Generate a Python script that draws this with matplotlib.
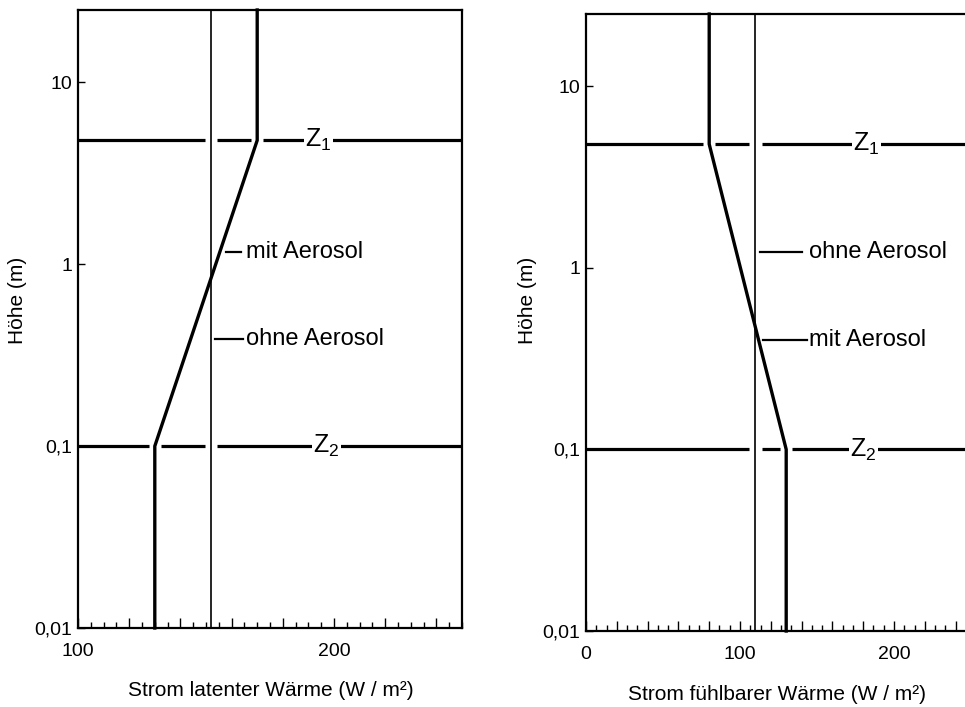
import matplotlib
matplotlib.use('Agg')
import matplotlib.pyplot as plt
from matplotlib.ticker import FixedLocator, MultipleLocator, FuncFormatter, NullLocator

plt.rcParams['font.family'] = ['Liberation Sans', 'DejaVu Sans']
plt.rcParams['mathtext.fontset'] = 'custom'
plt.rcParams['mathtext.rm'] = 'Liberation Sans'
plt.rcParams['mathtext.it'] = 'Liberation Sans'

# ---------------- data ----------------
z_min, z_max = 0.01, 25.0
z1 = 4.8          # upper reference height Z1 (m)
z2 = 0.1          # lower reference height Z2 (m)

# latent heat flux (W/m^2)
lat_mit_below = 130   # with aerosol, below Z2
lat_mit_above = 170   # with aerosol, above Z1
lat_ohne = 152        # without aerosol
lat_xlim = (100, 250)

# sensible heat flux (W/m^2)
sen_mit_below = 130
sen_mit_above = 80
sen_ohne = 110
sen_xlim = (0, 250)

y_ticks = [0.01, 0.1, 1, 10]
y_ticklabels = ['0,01', '0,1', '1', '10']

W, H = 965, 707
fig = plt.figure(figsize=(W / 100, H / 100), dpi=100)

def ax_rect(l, r, b, t):
    return [l / W, 1 - b / H, (r - l) / W, (b - t) / H]

ax1 = fig.add_axes(ax_rect(78, 462, 628, 10))
ax2 = fig.add_axes(ax_rect(586, 971, 631, 14))


def setup(ax, xlim, minor_step, xlabel, xl_coords, yl_coords):
    ax.set_yscale('log')
    ax.set_ylim(z_min, z_max)
    ax.set_xlim(*xlim)
    ax.yaxis.set_major_locator(FixedLocator(y_ticks))
    ax.yaxis.set_major_formatter(FuncFormatter(
        lambda v, p: y_ticklabels[y_ticks.index(min(y_ticks, key=lambda t: abs(t - v)))]))
    ax.yaxis.set_minor_locator(NullLocator())
    ax.xaxis.set_major_locator(MultipleLocator(20))
    ax.xaxis.set_minor_locator(MultipleLocator(minor_step))
    ax.xaxis.set_major_formatter(FuncFormatter(
        lambda v, p: '%d' % round(v) if abs(v / 100 - round(v / 100)) < 1e-6 else ''))
    ax.tick_params(axis='both', which='both', direction='in', top=False, right=False,
                   width=1.0, labelsize=14, colors='black')
    ax.tick_params(axis='x', which='major', length=7.5, pad=11)
    ax.tick_params(axis='x', which='minor', length=4)
    ax.tick_params(axis='y', which='major', length=5, pad=4)
    for s in ax.spines.values():
        s.set_linewidth(1.6)
    ax.set_xlabel(xlabel, fontsize=15)
    ax.set_ylabel('Höhe (m)', fontsize=15)
    ax.xaxis.set_label_coords(*xl_coords)
    ax.yaxis.set_label_coords(*yl_coords)


setup(ax1, lat_xlim, 5, 'Strom latenter Wärme (W / m²)', (0.503, -0.085), (-0.132, 0.53))
setup(ax2, sen_xlim, 20 / 3, 'Strom fühlbarer Wärme (W / m²)', (0.496, -0.088), (-0.127, 0.536))


def profile(ax, below, above, ohne):
    ax.plot([below, below, above, above], [z_min, z2, z1, z_max], color='black',
            lw=2.4, solid_joinstyle='miter', zorder=4, clip_on=False)
    ax.plot([ohne, ohne], [z_min, z_max], color='black', lw=1.2, zorder=4)


def zline(ax, z, crossings, label, label_x):
    x0, x1 = ax.get_xlim()
    gap = 0.016 * (x1 - x0)
    pts = sorted(crossings)
    starts = [x0] + [c + gap for c in pts]
    ends = [c - gap for c in pts] + [x1]
    for s, e in zip(starts, ends):
        ax.plot([s, e], [z, z], color='black', lw=2.3, zorder=3, solid_capstyle='butt')
    ax.text(label_x, z, label, fontsize=18, ha='center', va='center', zorder=5,
            bbox=dict(facecolor='white', edgecolor='none', pad=1.0))


# left panel
profile(ax1, lat_mit_below, lat_mit_above, lat_ohne)
zline(ax1, z1, [lat_ohne, lat_mit_above], r'Z$_\mathrm{1}$', 194)
zline(ax1, z2, [lat_ohne, lat_mit_below], r'Z$_\mathrm{2}$', 197)
ax1.plot([157.8, 163.7], [1.17, 1.17], color='black', lw=1.6)
ax1.text(165.5, 1.17, 'mit Aerosol', fontsize=17, va='center', ha='left')
ax1.plot([153.5, 164.5], [0.39, 0.39], color='black', lw=1.6)
ax1.text(165.5, 0.39, 'ohne Aerosol', fontsize=17, va='center', ha='left')

# right panel
profile(ax2, sen_mit_below, sen_mit_above, sen_ohne)
zline(ax2, z1, [sen_ohne, sen_mit_above], r'Z$_\mathrm{1}$', 182)
zline(ax2, z2, [sen_ohne, sen_mit_below], r'Z$_\mathrm{2}$', 180)
ax2.plot([113, 140.3], [1.23, 1.23], color='black', lw=1.6)
ax2.text(144.5, 1.23, 'ohne Aerosol', fontsize=17, va='center', ha='left')
ax2.plot([115, 143.5], [0.40, 0.40], color='black', lw=1.6)
ax2.text(145, 0.40, 'mit Aerosol', fontsize=17, va='center', ha='left')

fig.savefig('out.png', dpi=100, facecolor='white')
